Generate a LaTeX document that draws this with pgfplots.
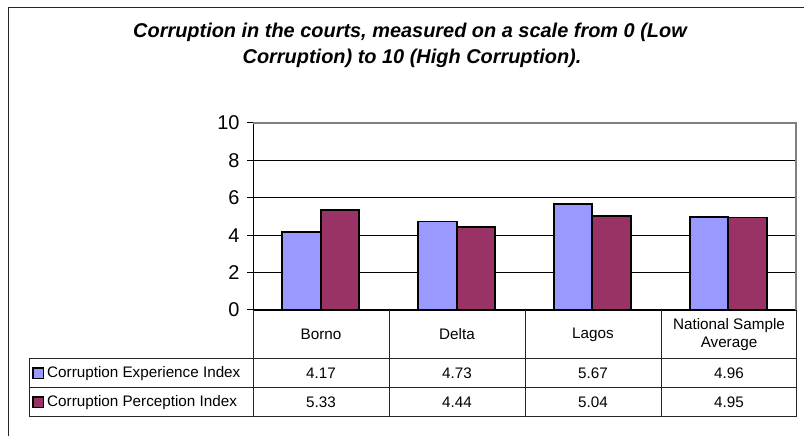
\documentclass[border=0pt]{standalone}
\usepackage{fontspec}
\setmainfont{Liberation Sans}
\usepackage{pgfplots}
\pgfplotsset{compat=1.18}
\definecolor{cexp}{HTML}{9999FF}
\definecolor{cper}{HTML}{993366}
\definecolor{plotgray}{HTML}{808080}
\begin{document}
\begin{tikzpicture}[x=1bp,y=1bp]
\useasboundingbox (0,0) rectangle (804,436);
% chart area frame (left and top visible)
\draw[line width=1.5bp, black!85] (8.5,0) -- (8.5,428.5) -- (804,428.5);
% title
\node[anchor=base, font=\fontsize{20}{26}\selectfont\bfseries\itshape] at (410,398.7) {Corruption in the courts, measured on a scale from 0 (Low};
\node[anchor=base, font=\fontsize{20}{26}\selectfont\bfseries\itshape] at (412,372.7) {Corruption) to 10 (High Corruption).};
\begin{axis}[
  at={(253bp,126bp)}, anchor=south west,
  scale only axis, width=543bp, height=187bp,
  xmin=-0.5, xmax=3.5, ymin=0, ymax=10,
  ytick={0,2,4,6,8,10}, xtick=\empty,
  ymajorgrids, grid style={black, line width=0.8bp},
  axis lines*=left,
  axis line style={black, line width=1bp},
  tick style={black, line width=1bp},
  major tick length=6bp, tick align=outside,
  yticklabel style={font=\fontsize{20}{24}\selectfont, xshift=-4bp},
  /pgf/number format/assume math mode=true,
  ybar=0pt, bar width=38.5bp,
  clip=false,
]
\addplot[fill=cexp, draw=black, line width=1.8bp] coordinates {(0,4.17) (1,4.73) (2,5.67) (3,4.96)};
\addplot[fill=cper, draw=black, line width=1.8bp] coordinates {(0,5.33) (1,4.44) (2,5.04) (3,4.95)};
\draw[plotgray, line width=2bp] (rel axis cs:0,1) -- (rel axis cs:1,1) -- (rel axis cs:1,0);
\end{axis}
% data table
\begin{scope}[black!85, line width=1bp]
\draw (29,77) -- (796,77);
\draw (29,48) -- (796,48);
\draw (29,19) -- (796,19);
\draw (29,77) -- (29,19);
\draw (253,126) -- (253,19);
\draw (389,126) -- (389,19);
\draw (525,126) -- (525,19);
\draw (661,126) -- (661,19);
\draw (796,126) -- (796,19);
\end{scope}
\begin{scope}[font=\fontsize{15.3}{18}\selectfont]
\node at (321,101.5) {Borno};
\node at (457,101.5) {Delta};
\node at (593,101.5) {Lagos};
\node[align=center] at (729,101.5) {National Sample\\Average};
\node at (321,62.5) {4.17};
\node at (457,62.5) {4.73};
\node at (593,62.5) {5.67};
\node at (729,62.5) {4.96};
\node at (321,33.5) {5.33};
\node at (457,33.5) {4.44};
\node at (593,33.5) {5.04};
\node at (729,33.5) {4.95};
\node[anchor=west, inner sep=0pt] at (47,62.5) {Corruption Experience Index};
\node[anchor=west, inner sep=0pt] at (47,33.5) {Corruption Perception Index};
\end{scope}
\filldraw[fill=cexp, draw=black, line width=1.5bp] (33,57.5) rectangle (43.5,68);
\filldraw[fill=cper, draw=black, line width=1.5bp] (33,28.5) rectangle (43.5,39);
\end{tikzpicture}
\end{document}
